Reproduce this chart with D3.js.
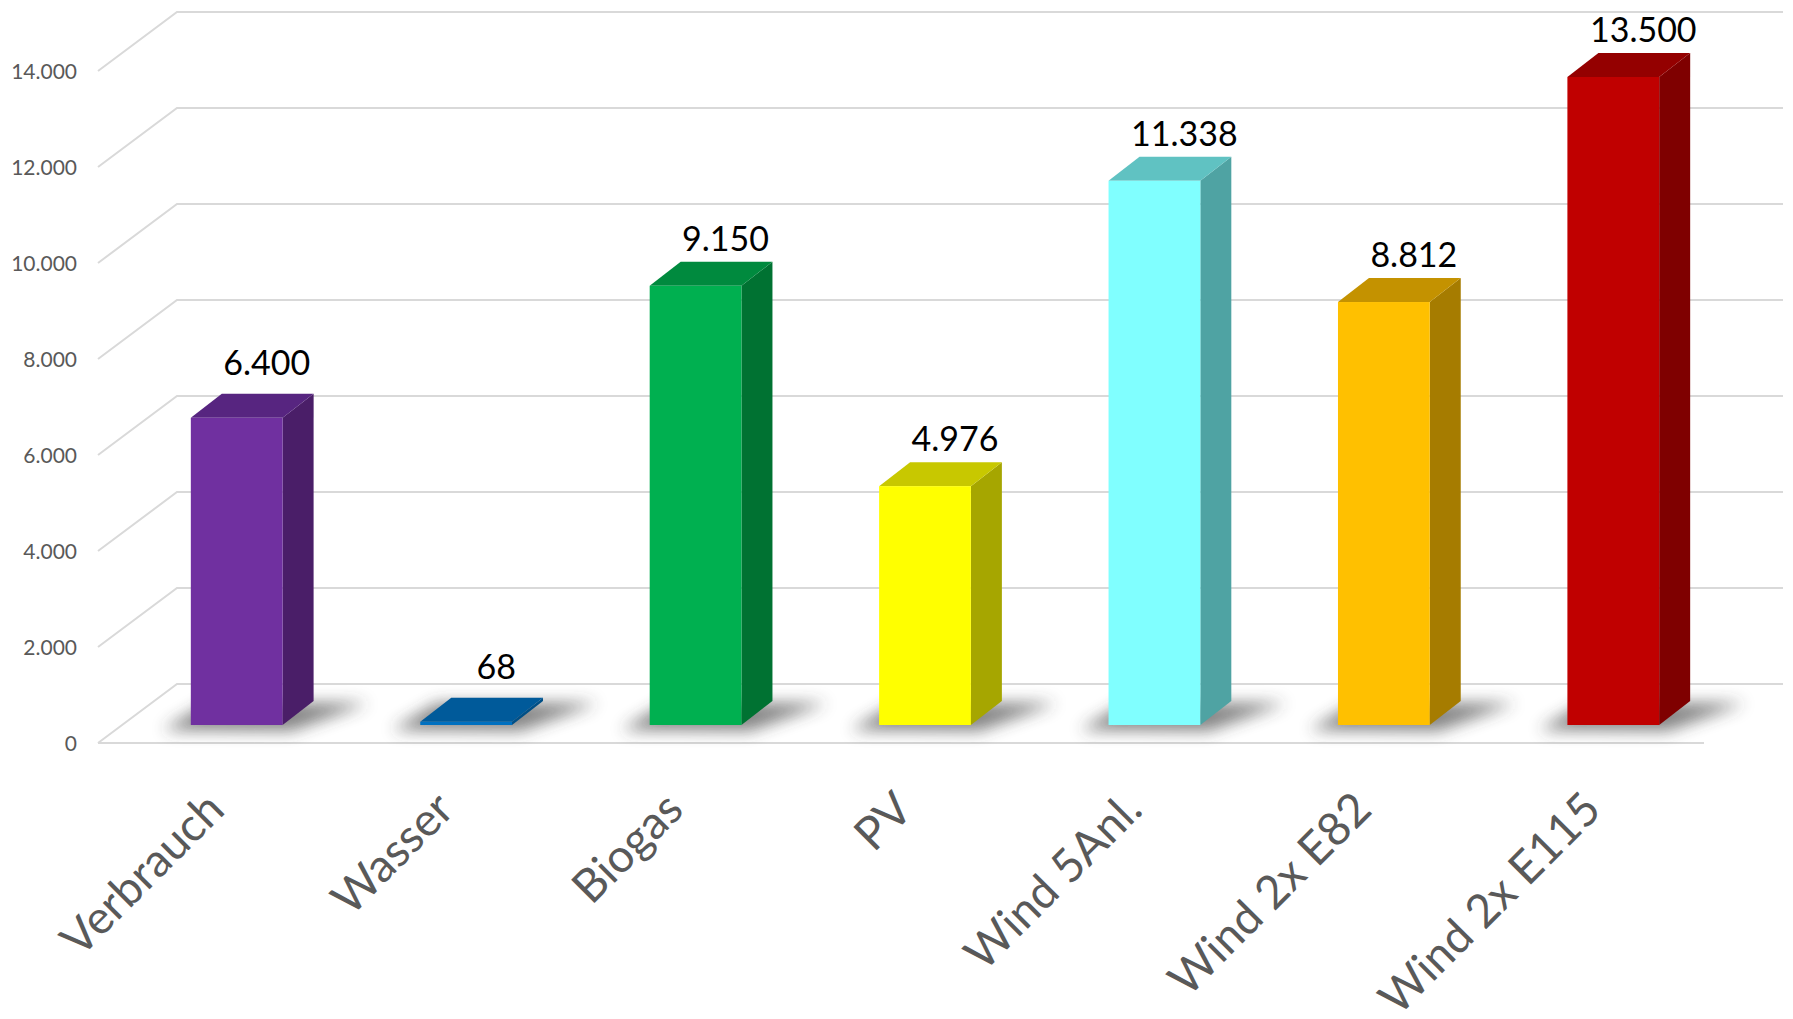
<!DOCTYPE html>
<html>
<head>
<meta charset="utf-8">
<script src="https://cdn.jsdelivr.net/npm/d3@7"></script>
<style>
  html, body { margin: 0; padding: 0; background: #ffffff; }
  svg { display: block; }
</style>
</head>
<body>
<svg id="chart" width="1793" height="1019"></svg>
<script>
// ---- data ----
const categories = ["Verbrauch", "Wasser", "Biogas", "PV", "Wind 5Anl.", "Wind 2x E82", "Wind 2x E115"];
const values = [6400, 68, 9150, 4976, 11338, 8812, 13500];
const yTicks = [0, 2000, 4000, 6000, 8000, 10000, 12000, 14000];

// ---- styles ----
const frontColors = ["#7030A0", "#0070C0", "#00B050", "#FFFF00", "#80FFFF", "#FFC000", "#C00000"];
const topColors   = ["#572580", "#005A9A", "#008A3E", "#C8C800", "#60C2C2", "#C49200", "#940000"];
const sideColors  = ["#4A1E68", "#004F86", "#007232", "#A6A600", "#4FA3A3", "#A67C00", "#7F0000"];

const fmt = d3.formatLocale({decimal: ",", thousands: ".", grouping: [3], currency: ["", "€"]}).format(",d");

const svg = d3.select("#chart");

// geometry
const axisLeft = 98, axisRight = 1704, floorY = 743;
const wallDX = 79, wallDY = -59;          // back wall offset
const barOffDX = 24, barOffDY = -18;      // bar front plane offset
const barDX = 31, barDY = -24;            // bar depth

const x = d3.scaleBand().domain(categories).range([axisLeft, axisRight])
  .paddingInner(0.6).paddingOuter(0.3);
const h = d3.scaleLinear().domain([0, 14000]).range([0, 672]);

const defs = svg.append("defs");
defs.append("filter").attr("id", "shadow").attr("x", "-50%").attr("y", "-100%").attr("width", "200%").attr("height", "300%")
  .append("feGaussianBlur").attr("stdDeviation", 8);

// gridlines: side wall + back wall
const grid = svg.append("g");
yTicks.forEach(t => {
  const yf = floorY - h(t);
  const yb = yf + wallDY;
  grid.append("path")
    .attr("d", `M${axisLeft},${yf} L${axisLeft + wallDX},${yb} L${axisRight + wallDX},${yb}`)
    .attr("fill", "none").attr("stroke", "#d9d9d9").attr("stroke-width", 2);
});
// front floor line
grid.append("line").attr("x1", axisLeft).attr("x2", axisRight).attr("y1", floorY).attr("y2", floorY)
  .attr("stroke", "#d9d9d9").attr("stroke-width", 2);

// y tick labels
svg.append("g").selectAll("text").data(yTicks).join("text")
  .attr("x", 77).attr("y", d => floorY - h(d) + 8)
  .attr("text-anchor", "end")
  .attr("font-family", "Lato, 'Open Sans', sans-serif").attr("font-size", 21)
  .attr("fill", "#595959")
  .text(d => fmt(d));

// bars
const bars = svg.append("g").selectAll("g").data(categories).join("g");
const info = (d, i) => {
  const x0 = x(d) + barOffDX;
  const x1 = x0 + x.bandwidth();
  const yb = floorY + barOffDY;
  const yt = yb - h(values[i]);
  return {x0, x1, yb, yt};
};

// shadows
bars.append("path")
  .attr("d", (d, i) => {
    const {x0, x1, yb} = info(d, i);
    return `M${x0 - 28},${yb + 5} L${x1 + 8},${yb + 6} L${x1 + barDX + 55},${yb + barDY + 2} L${x0 + barDX - 14},${yb + barDY + 2} Z`;
  })
  .attr("fill", "#333").attr("opacity", 0.6).attr("filter", "url(#shadow)");

// side faces
bars.append("path")
  .attr("d", (d, i) => {
    const {x1, yb, yt} = info(d, i);
    return `M${x1},${yb} L${x1 + barDX},${yb + barDY} L${x1 + barDX},${yt + barDY} L${x1},${yt} Z`;
  })
  .attr("fill", (d, i) => sideColors[i]);

// top faces
bars.append("path")
  .attr("d", (d, i) => {
    const {x0, x1, yt} = info(d, i);
    return `M${x0},${yt} L${x1},${yt} L${x1 + barDX},${yt + barDY} L${x0 + barDX},${yt + barDY} Z`;
  })
  .attr("fill", (d, i) => topColors[i]);

// front faces
bars.append("rect")
  .attr("x", (d, i) => info(d, i).x0)
  .attr("y", (d, i) => info(d, i).yt)
  .attr("width", x.bandwidth())
  .attr("height", (d, i) => Math.max(h(values[i]), 0))
  .attr("fill", (d, i) => frontColors[i]);

// data labels
bars.append("text")
  .attr("x", (d, i) => (info(d, i).x0 + info(d, i).x1) / 2 + 30)
  .attr("y", (d, i) => info(d, i).yt - (values[i] < 7000 && i < 2 ? 43 : 35))
  .attr("text-anchor", "middle")
  .attr("font-family", "Lato, 'Open Sans', sans-serif").attr("font-size", 34)
  .attr("fill", "#000")
  .text((d, i) => fmt(values[i]));

// category labels
svg.append("g").selectAll("text").data(categories).join("text")
  .attr("transform", d => `translate(${x(d) + x.bandwidth() / 2 + 14},${812}) rotate(-45)`)
  .attr("text-anchor", "end")
  .attr("font-family", "Lato, 'Open Sans', sans-serif").attr("font-size", 46)
  .attr("fill", "#595959")
  .text(d => d);
</script>
</body>
</html>
